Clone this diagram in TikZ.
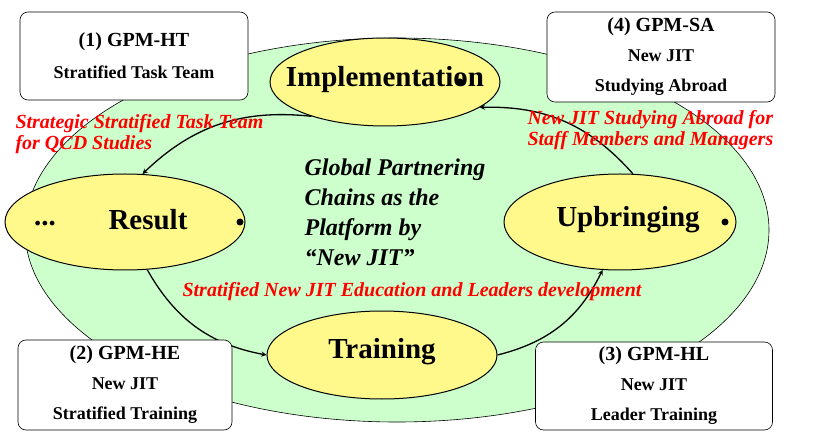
\documentclass[tikz,border=0pt]{standalone}
\usepackage{fontspec}
\setmainfont{Liberation Serif}
\usetikzlibrary{shapes.geometric}
\begin{document}
\begin{tikzpicture}[x=1pt,y=-1pt,
 oval/.style={draw=black,fill=yellow!45,line width=1pt},
 big/.style={font=\bfseries\fontsize{29}{32}\selectfont},
 box/.style={draw=black,rounded corners=8pt,fill=white,line width=0.6pt,align=center,font=\bfseries\fontsize{20}{30}\selectfont},
 redlbl/.style={text=red,font=\bfseries\itshape\fontsize{20}{21}\selectfont,align=left},
 arr/.style={->,>=stealth,line width=1.3pt}]
\useasboundingbox (0,0) rectangle (816,438);
\fill[green!20,draw=black,line width=0.6pt] (397,230) ellipse [x radius=372,y radius=192];
\node[oval,ellipse,minimum width=230,minimum height=88] (imp) at (385,82) {};
\node[big] (impt) at (385,80) {Implementation};
\node[oval,ellipse,minimum width=240,minimum height=96] (res) at (125,222) {};
\node[big] (rest) at (148,220) {Result};
\node[big] (dots) at (45,224) {...};
\node[oval,ellipse,minimum width=232,minimum height=96] (upb) at (620,222) {};
\node[big] (upbt) at (628,220) {Upbringing};
\node[oval,ellipse,minimum width=230,minimum height=88] (tra) at (382,355) {};
\node[big] (trat) at (382,352) {Training};
\fill (460,82) circle (3.5); \fill (240,222) circle (3.5); \fill (725,222) circle (3.5);
\draw[arr] (imp.205) to[bend right=25] (res.70);
\draw[arr] (res.295) to[bend right=25] (tra.180);
\draw[arr] (tra.0) to[bend right=25] (upb.250);
\draw[arr] (upb.75) to[bend right=25] (imp.345);
\node[box,minimum width=228,minimum height=88] (b1) at (134,56) {(1) GPM-HT\\[2pt]{\fontsize{18}{22}\selectfont Stratified Task Team}};
\node[box,minimum width=228,minimum height=90] (b4) at (661,57) {(4) GPM-SA\\{\fontsize{18}{22}\selectfont New JIT}\\{\fontsize{18}{22}\selectfont Studying Abroad}};
\node[box,minimum width=214,minimum height=90] (b2) at (125,385) {(2) GPM-HE\\{\fontsize{18}{22}\selectfont New JIT}\\{\fontsize{18}{22}\selectfont Stratified Training}};
\node[box,minimum width=237,minimum height=88] (b3) at (654,386) {(3) GPM-HL\\{\fontsize{18}{22}\selectfont New JIT}\\{\fontsize{18}{22}\selectfont Leader Training}};
\node[redlbl,anchor=west] (r1) at (12,134) {Strategic Stratified Task Team\\for QCD Studies};
\node[redlbl,anchor=west] (r4) at (524,130) {New JIT Studying Abroad for\\Staff Members and Managers};
\node[redlbl] (r2) at (412,292) {Stratified New JIT Education and Leaders development};
\node[font=\bfseries\itshape\fontsize{24}{30}\selectfont,align=left] (c) at (395,212) {Global Partnering\\Chains as the\\Platform by\\``New JIT''};
\end{tikzpicture}
\end{document}
